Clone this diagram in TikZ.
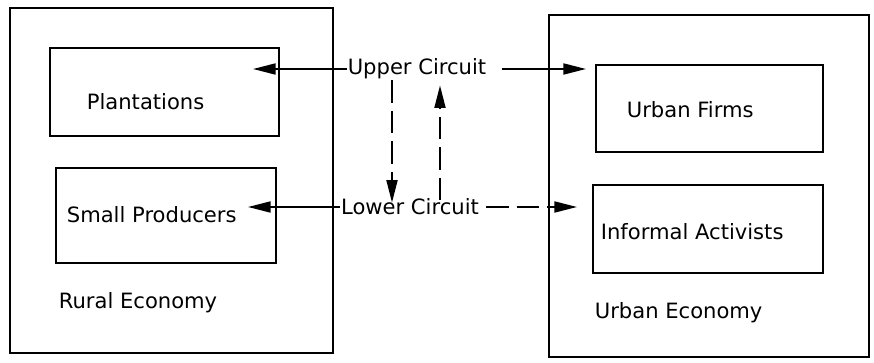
\documentclass[tikz,border=0pt]{standalone}
\usepackage{fontspec}
\setmainfont{DejaVu Sans}
\usetikzlibrary{positioning, arrows.meta}

\begin{document}
\begin{tikzpicture}[
    outer/.style={draw, line width=1.3pt, inner sep=0pt},
    box/.style={draw, line width=1.2pt, inner sep=0pt},
    txt/.style={font=\fontsize{12}{14}\selectfont, inner sep=2pt},
    circuit/.style={txt, inner sep=0.5pt},
    arrow/.style={-{Triangle[length=0.45cm, width=0.22cm]}, line width=1pt},
    dasharrow/.style={arrow, dash pattern=on 0.45cm off 0.16cm}
]
\useasboundingbox (0,0) rectangle (17.48,7.24);
\node[outer, minimum width=6.46cm, minimum height=6.9cm] (rural) at (3.43,3.63) {};
\node[outer, minimum width=6.4cm, minimum height=6.84cm] (urban) at (14.18,3.52) {};
\node[box, minimum width=4.58cm, minimum height=1.76cm] (plant) at (3.29,5.40) {};
\node[box, minimum width=4.4cm, minimum height=1.9cm] (small) at (3.32,2.93) {};
\node[box, minimum width=4.54cm, minimum height=1.74cm] (firms) at (14.19,5.07) {};
\node[box, minimum width=4.6cm, minimum height=1.76cm] (inform) at (14.16,2.66) {};
\node[txt, anchor=west] (plantlbl) at (1.66,5.2) {Plantations};
\node[txt, anchor=west] (smalllbl) at (1.26,2.94) {Small Producers};
\node[txt, anchor=west] (rurallbl) at (1.1,1.18) {Rural Economy};
\node[txt, anchor=west] (firmslbl) at (12.46,5.04) {Urban Firms};
\node[txt, anchor=west] (informlbl) at (11.94,2.6) {Informal Activists};
\node[txt, anchor=west] (urbanlbl) at (11.82,0.98) {Urban Economy};
\node[circuit] (upper) at (8.34,5.86) {Upper Circuit};
\node[circuit] (lower) at (8.2,3.1) {Lower Circuit};
\draw[arrow, shorten >=-0.54cm] (upper.west) -- (plant.east |- upper.west);
\draw[arrow, shorten >=0.18cm] ([xshift=0.3cm]upper.east) -- (firms.west |- upper.east);
\draw[arrow, shorten >=-0.58cm] (lower.west) -- (small.east |- lower.west);
\draw[dasharrow, shorten >=0.3cm] ([xshift=0.12cm]lower.east) -- (inform.west |- lower.east);
\draw[dasharrow, shorten >=-0.1cm] ([xshift=-0.5cm]upper.south) -- ([xshift=-0.5cm]upper.south |- lower.north);
\draw[dasharrow, shorten <=-0.05cm] ([xshift=0.46cm]upper.south |- lower.north) -- ([xshift=0.46cm, yshift=-0.1cm]upper.south);
\end{tikzpicture}
\end{document}
